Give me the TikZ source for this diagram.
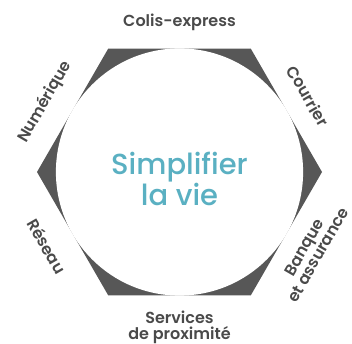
\documentclass[tikz,border=0pt]{standalone}
\usepackage{fontspec}
\setmainfont{Poppins SemiBold}
\newfontfamily\ctrfont{Poppins Medium}
\definecolor{hexgray}{HTML}{575757}
\definecolor{txtgray}{HTML}{4A4A4A}
\definecolor{teal}{HTML}{5AB0C2}
\begin{document}
\begin{tikzpicture}[x=1pt,y=1pt,
  lbl/.style={text=txtgray,font=\fontsize{16}{16}\selectfont,align=center,inner sep=0pt},
  ctr/.style={text=teal,font=\ctrfont\fontsize{29}{28}\selectfont,align=center,inner sep=0pt}]
\useasboundingbox (0,0) rectangle (352,344);
\coordinate (c) at (179.5,172);
\fill[hexgray] (c) ++(0:142.5) -- ++(120:142.5) -- ++(180:142.5) -- ++(240:142.5) -- ++(300:142.5) -- ++(0:142.5) -- cycle;
\fill[white] (c) circle (123.6);
\node[ctr] (center) at (179.5,165) {Simplifier\\la vie};
\node[lbl] (colis) at (179.5,322) {Colis-express};
\node[lbl,rotate=-60] (courrier) at (308,248) {Courrier};
\node[lbl,rotate=60] (num) at (45,242) {Numérique};
\node[lbl,rotate=-60] (reseau) at (47,98) {Réseau};
\node[lbl,rotate=60] (banque) at (311,93) {Banque\\et assurance};
\node[lbl] (services) at (179.5,17) {Services\\de proximité};
\end{tikzpicture}
\end{document}
